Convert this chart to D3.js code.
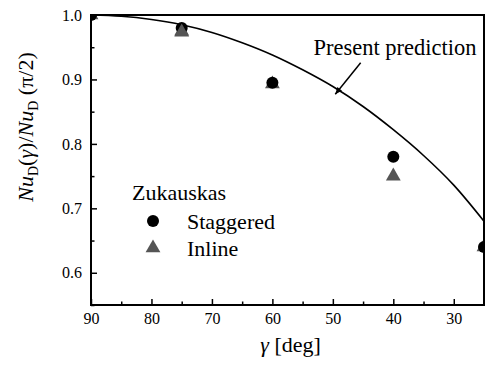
<!DOCTYPE html>
<html>
<head>
<script src="https://cdn.jsdelivr.net/npm/d3@7"></script>
</head>
<body style="margin:0">
<svg id="chart" width="485" height="368"></svg>
<script>
const FONT = "Liberation Serif";

const margin = {top: 15, right: 1, bottom: 63, left: 91};
const chartWidth = 485;
const chartHeight = 368;
const plotWidth = chartWidth - margin.left - margin.right;
const plotHeight = chartHeight - margin.top - margin.bottom;

const X_MAX = 90;
const X_MIN = 25;
const Y_MIN = 0.55;
const Y_MAX = 1.0;

// data
const staggeredAngle = [90, 75, 60, 40, 25];
const staggeredRatio = [1.0, 0.98, 0.895, 0.78, 0.64];
const inlineAngle = [90, 75, 60, 40, 25];
const inlineRatio = [1.0, 0.975, 0.893, 0.75, 0.64];
const predictionAngle = [90, 85, 80, 75, 70, 65, 60, 55, 50, 45, 40, 35, 30, 25];
const predictionRatio = [1.0, 0.998, 0.993, 0.985, 0.973, 0.957, 0.938, 0.915, 0.889, 0.858, 0.822, 0.782, 0.736, 0.68];

const xTicks = [90, 80, 70, 60, 50, 40, 30];
const xMinorTicks = [85, 75, 65, 55, 45, 35];
const yTicks = [0.6, 0.7, 0.8, 0.9, 1.0];
const yMinorTicks = [0.55, 0.65, 0.75, 0.85, 0.95];

const svg = d3.select("#chart");
const g = svg.append("g")
    .attr("transform", `translate(${margin.left}, ${margin.top})`);

const xScale = d3.scaleLinear().domain([X_MAX, X_MIN]).range([0, plotWidth]);
const yScale = d3.scaleLinear().domain([Y_MIN, Y_MAX]).range([plotHeight, 0]);

g.append("clipPath").attr("id", "clip")
    .append("rect").attr("width", plotWidth).attr("height", plotHeight);

// axes, ticks pointing inward
function styleAxis(sel) {
    sel.select(".domain").remove();
    sel.attr("font-family", FONT).attr("font-size", 16);
    sel.selectAll("line").attr("stroke", "#000").attr("stroke-width", 1.5);
    sel.selectAll("text").attr("fill", "#000");
}
g.append("g")
    .attr("transform", `translate(0,${plotHeight})`)
    .call(d3.axisBottom(xScale).tickValues(xTicks).tickFormat(d3.format("d"))
        .tickSizeInner(-6).tickSizeOuter(0).tickPadding(8))
    .call(styleAxis);
g.append("g")
    .attr("transform", `translate(0,${plotHeight})`)
    .call(d3.axisBottom(xScale).tickValues(xMinorTicks).tickFormat("")
        .tickSizeInner(-3.5).tickSizeOuter(0))
    .call(styleAxis);
g.append("g")
    .call(d3.axisLeft(yScale).tickValues(yTicks).tickFormat(d3.format(".1f"))
        .tickSizeInner(-6).tickSizeOuter(0).tickPadding(9))
    .call(styleAxis);
g.append("g")
    .call(d3.axisLeft(yScale).tickValues(yMinorTicks).tickFormat("")
        .tickSizeInner(-3.5).tickSizeOuter(0))
    .call(styleAxis);

const plot = g.append("g").attr("clip-path", "url(#clip)");

// prediction curve
const predData = predictionAngle.map((a, i) => ({a: a, r: predictionRatio[i]}));
plot.append("path")
    .datum(predData)
    .attr("fill", "none")
    .attr("stroke", "#000")
    .attr("stroke-width", 1.6)
    .attr("d", d3.line()
        .curve(d3.curveMonotoneX)
        .x(d => xScale(d.a))
        .y(d => yScale(d.r)));

// markers
const triangle = d3.symbol(d3.symbolTriangle, 95);
const inlineData = inlineAngle.map((a, i) => ({a: a, r: inlineRatio[i]}));
plot.selectAll(".inline")
    .data(inlineData)
    .join("path")
    .attr("class", "inline")
    .attr("transform", d => `translate(${xScale(d.a)}, ${yScale(d.r)})`)
    .attr("d", triangle)
    .attr("fill", "#555");

const staggeredData = staggeredAngle.map((a, i) => ({a: a, r: staggeredRatio[i]}));
plot.selectAll(".staggered")
    .data(staggeredData)
    .join("circle")
    .attr("class", "staggered")
    .attr("cx", d => xScale(d.a))
    .attr("cy", d => yScale(d.r))
    .attr("r", 6)
    .attr("fill", "#000");

// at 75 deg the triangle sits on top of the circle
plot.selectAll(".inline-top")
    .data(inlineData.filter(d => d.a === 75))
    .join("path")
    .attr("class", "inline-top")
    .attr("transform", d => `translate(${xScale(d.a)}, ${yScale(d.r) + 1})`)
    .attr("d", triangle)
    .attr("fill", "#555");

// frame
g.append("rect")
    .attr("width", plotWidth)
    .attr("height", plotHeight)
    .attr("fill", "none")
    .attr("stroke", "#000")
    .attr("stroke-width", 2);

// annotation
g.append("text")
    .attr("x", xScale(53.2))
    .attr("y", yScale(0.9375))
    .attr("font-family", FONT)
    .attr("font-size", 22.5)
    .attr("fill", "#000")
    .text("Present prediction");

const ax1 = xScale(45.4), ay1 = yScale(0.926);
const ax2 = xScale(49.6), ay2 = yScale(0.877);
g.append("line")
    .attr("x1", ax1).attr("y1", ay1)
    .attr("x2", ax2).attr("y2", ay2)
    .attr("stroke", "#000")
    .attr("stroke-width", 1.5);
const ang = Math.atan2(ay2 - ay1, ax2 - ax1) * 180 / Math.PI;
g.append("path")
    .attr("transform", `translate(${ax2},${ay2}) rotate(${ang})`)
    .attr("d", "M0,0 L-7,-3 L-7,3 Z")
    .attr("fill", "#000");

// legend
const legend = g.append("g").attr("transform", "translate(41, 185)");
legend.append("text").attr("x", 0).attr("y", 0).attr("font-family", FONT).attr("font-size", 22).text("Zukauskas");
legend.append("circle").attr("cx", 21).attr("cy", 21).attr("r", 6).attr("fill", "#000");
legend.append("text").attr("x", 55).attr("y", 29).attr("font-family", FONT).attr("font-size", 22).text("Staggered");
legend.append("path").attr("transform", "translate(21, 48)").attr("d", triangle).attr("fill", "#555");
legend.append("text").attr("x", 55).attr("y", 56).attr("font-family", FONT).attr("font-size", 22).text("Inline");

// axis titles
const xTitle = svg.append("text")
    .attr("x", margin.left + plotWidth / 2 + 3)
    .attr("y", 352)
    .attr("text-anchor", "middle")
    .attr("font-family", FONT)
    .attr("font-size", 22);
xTitle.append("tspan").attr("font-style", "italic").text("γ");
xTitle.append("tspan").text(" [deg]");

const yTitle = svg.append("text")
    .attr("transform", "translate(33, 127) rotate(-90)")
    .attr("text-anchor", "middle")
    .attr("font-family", FONT)
    .attr("font-size", 22);
yTitle.append("tspan").attr("font-style", "italic").text("Nu");
yTitle.append("tspan").attr("font-size", 14).attr("dy", 5).text("D");
yTitle.append("tspan").attr("dy", -5).text("(");
yTitle.append("tspan").attr("font-style", "italic").text("γ");
yTitle.append("tspan").text(")/");
yTitle.append("tspan").attr("font-style", "italic").text("Nu");
yTitle.append("tspan").attr("font-size", 14).attr("dy", 5).text("D");
yTitle.append("tspan").attr("dy", -5).text(" (π/2)");
</script>
</body>
</html>
